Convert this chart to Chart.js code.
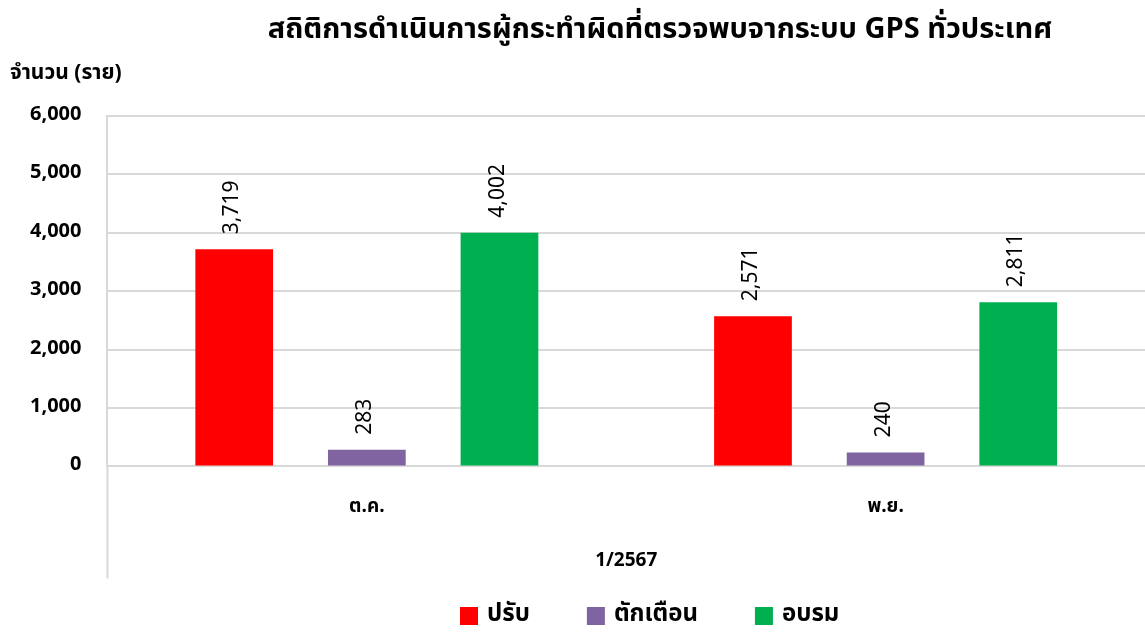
<!DOCTYPE html>
<html><head><meta charset="utf-8">
<script src="https://cdn.jsdelivr.net/npm/chart.js@4/dist/chart.umd.min.js"></script>
<style>html,body{margin:0;padding:0;background:#fff;}#wrap{width:1145px;height:632px;position:relative;}</style>
</head><body><div id="wrap"><canvas id="c" width="1145" height="632"></canvas></div>
<script>
const titleText = 'สถิติการดำเนินการผู้กระทำผิดที่ตรวจพบจากระบบ GPS ทั่วประเทศ';
const yAxisTitle = 'จำนวน (ราย)';
const months = ['ต.ค.', 'พ.ย.'];
const periodLabels = ['1/2567'];
const seriesNames = ['ปรับ', 'ตักเตือน', 'อบรม'];
const fineValues = [3719, 2571];
const warnValues = [283, 240];
const trainValues = [4002, 2811];
const seriesColors = ['#ff0000', '#8064a2', '#00b050'];
const yTicks = [0, 1000, 2000, 3000, 4000, 5000, 6000];

const FONT = "Tahoma, 'Noto Sans Thai', 'Noto Sans', 'DejaVu Sans', sans-serif";

const extras = {
  id: 'extras',
  afterDraw(chart) {
    const ctx = chart.ctx;
    const ca = chart.chartArea;
    ctx.save();
    // extended left axis line
    ctx.strokeStyle = '#d9d9d9';
    ctx.lineWidth = 2;
    ctx.beginPath();
    ctx.moveTo(ca.left, ca.bottom);
    ctx.lineTo(ca.left, ca.bottom + 112);
    ctx.stroke();
    // title
    ctx.fillStyle = '#000';
    ctx.font = 'bold 29px ' + FONT;
    ctx.textAlign = 'center';
    ctx.textBaseline = 'middle';
    ctx.fillText(titleText, 660, 32);
    // y-axis title
    ctx.font = 'bold 21px ' + FONT;
    ctx.textAlign = 'left';
    ctx.fillText(yAxisTitle, 10, 75);
    // data labels
    ctx.font = '21px ' + FONT;
    chart.data.datasets.forEach((ds, i) => {
      const meta = chart.getDatasetMeta(i);
      meta.data.forEach((bar, j) => {
        const v = ds.data[j];
        ctx.save();
        ctx.translate(bar.x, bar.y - 15);
        ctx.rotate(-Math.PI / 2);
        ctx.textAlign = 'left';
        ctx.textBaseline = 'middle';
        ctx.fillText(v.toLocaleString('en-US'), 0, 0);
        ctx.restore();
      });
    });
    // legend
    ctx.font = 'bold 24px ' + FONT;
    ctx.textBaseline = 'middle';
    let x = 460;
    const ly = 616;
    chart.data.datasets.forEach((ds) => {
      ctx.fillStyle = ds.backgroundColor;
      ctx.fillRect(x, ly - 9, 18, 18);
      ctx.fillStyle = '#000';
      ctx.textAlign = 'left';
      ctx.fillText(ds.label, x + 27, ly);
      x += 27 + ctx.measureText(ds.label).width + 57;
    });
    ctx.restore();
  }
};

new Chart(document.getElementById('c'), {
  type: 'bar',
  data: {
    labels: months,
    datasets: [
      { label: seriesNames[0], data: fineValues, backgroundColor: seriesColors[0], xAxisID: 'x' },
      { label: seriesNames[1], data: warnValues, backgroundColor: seriesColors[1], xAxisID: 'x' },
      { label: seriesNames[2], data: trainValues, backgroundColor: seriesColors[2], xAxisID: 'x' }
    ]
  },
  options: {
    responsive: false,
    animation: false,
    categoryPercentage: 0.767,
    barPercentage: 0.586,
    layout: { padding: { top: 116, left: 4, right: 0, bottom: 56 } },
    plugins: {
      title: { display: false },
      tooltip: { enabled: false },
      legend: { display: false }
    },
    scales: {
      x: {
        type: 'category',
        offset: true,
        grid: { display: false },
        border: { display: false },
        ticks: { color: '#000', padding: 22, font: { family: FONT, size: 19, weight: 'bold' } }
      },
      x2: {
        type: 'category',
        labels: periodLabels,
        position: 'bottom',
        offset: true,
        grid: { display: false },
        border: { display: false },
        ticks: { color: '#000', padding: 2, font: { family: FONT, size: 19, weight: 'bold' } }
      },
      y: {
        min: 0, max: 6000,
        afterBuildTicks(axis) { axis.ticks = yTicks.map(v => ({ value: v })); },
        grid: { color: '#d9d9d9', lineWidth: 2, drawTicks: false },
        border: { display: true, color: '#d9d9d9', width: 2 },
        ticks: {
          color: '#000', padding: 26,
          font: { family: FONT, size: 20, weight: 'bold' },
          callback: v => Number(v).toLocaleString('en-US')
        }
      }
    }
  },
  plugins: [extras]
});
</script></body></html>
